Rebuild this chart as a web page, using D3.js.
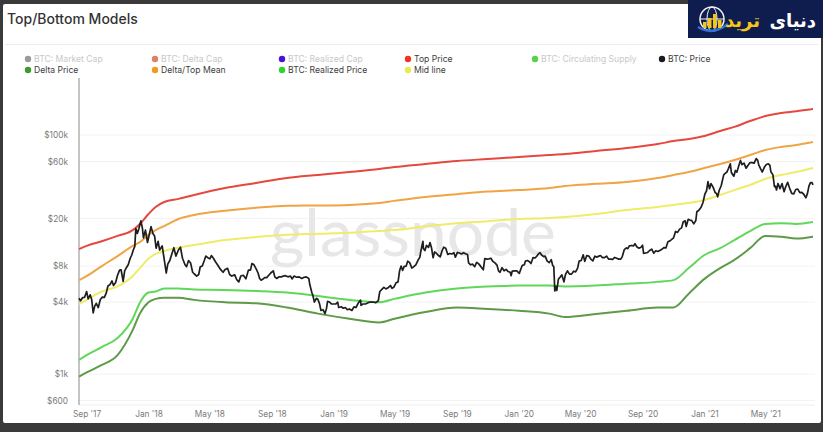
<!DOCTYPE html>
<html><head><meta charset="utf-8">
<script src="https://cdn.jsdelivr.net/npm/d3@7"></script>
<style>
html,body{margin:0;padding:0;background:#3a3a3a;}
svg{display:block;}
</style></head>
<body>
<script>
// ---------- DATA ----------
const modelDates = ["2017-08-17","2017-09-01","2017-10-01","2017-11-01","2017-12-01","2017-12-15","2018-01-01","2018-01-15","2018-02-01","2018-03-01","2018-04-01","2018-06-01","2018-08-01","2018-10-01","2018-12-01","2019-02-01","2019-04-01","2019-05-01","2019-07-01","2019-09-01","2019-11-01","2020-01-01","2020-03-01","2020-04-01","2020-06-01","2020-08-01","2020-10-01","2020-11-01","2020-12-01","2021-01-01","2021-02-01","2021-03-01","2021-04-01","2021-05-01","2021-06-01","2021-07-01","2021-08-03"];
const topPrice = [11100,11800,12900,14300,16000,18000,21800,25000,27500,29200,31500,36000,39700,43700,46300,49000,52000,54000,57200,60600,63000,65500,68000,69400,73500,77900,84000,89000,92600,98000,108000,117000,131000,144000,153000,158000,165000];
const deltaTopMean = [6100,6600,8000,9700,11800,12700,14600,16000,17300,19800,21400,23200,24600,25600,25700,26000,27000,28100,30300,32000,33600,34600,36000,37500,39000,40400,43700,46300,49000,52900,57200,61800,68000,74900,79400,82500,87400];
const midLine = [3850,4170,4900,5400,6600,7700,9200,10100,10700,11400,12000,13200,14000,14600,14900,15200,15700,16000,17200,18300,19000,19800,20200,20600,21800,23600,25000,26000,27000,28600,31500,34600,38200,42900,46300,49000,52900];
const realizedPrice = [1310,1440,1680,2000,2900,3950,4800,4900,5200,5200,5100,5050,4950,4800,4500,4170,3980,4250,4800,5200,5400,5500,5500,5400,5500,5700,5900,6100,7700,9900,11300,13200,15700,18000,18300,18000,18700];
const deltaPrice = [950,1030,1190,1440,2340,3200,3980,4250,4350,4350,4170,3980,3900,3600,3200,2900,2700,2900,3300,3600,3500,3380,3200,3000,3180,3380,3600,3600,4700,6250,7700,9000,11300,14300,14100,13600,14100];

const priceDates = ["2017-08-17","2017-08-20","2017-08-24","2017-08-28","2017-09-01","2017-09-04","2017-09-08","2017-09-11","2017-09-14","2017-09-17","2017-09-20","2017-09-24","2017-09-28","2017-10-02","2017-10-06","2017-10-10","2017-10-13","2017-10-17","2017-10-21","2017-10-24","2017-10-28","2017-11-01","2017-11-05","2017-11-08","2017-11-12","2017-11-15","2017-11-18","2017-11-22","2017-11-26","2017-11-29","2017-12-02","2017-12-05","2017-12-07","2017-12-10","2017-12-13","2017-12-17","2017-12-20","2017-12-22","2017-12-26","2017-12-30",
"2018-01-03","2018-01-06","2018-01-10","2018-01-13","2018-01-16","2018-01-20","2018-01-23","2018-01-28","2018-02-01","2018-02-05","2018-02-08","2018-02-12","2018-02-16","2018-02-20","2018-02-24","2018-03-01","2018-03-05","2018-03-09","2018-03-14","2018-03-17","2018-03-21","2018-03-25","2018-03-29","2018-04-01","2018-04-06","2018-04-10","2018-04-13","2018-04-17","2018-04-21","2018-04-24","2018-04-28","2018-05-02","2018-05-05","2018-05-09","2018-05-13","2018-05-18","2018-05-23","2018-05-28","2018-06-01","2018-06-06","2018-06-10","2018-06-14","2018-06-20","2018-06-24","2018-06-28","2018-07-02","2018-07-07","2018-07-12","2018-07-17","2018-07-21","2018-07-24","2018-07-28","2018-08-01","2018-08-05","2018-08-08","2018-08-11","2018-08-14","2018-08-18","2018-08-22","2018-08-26","2018-08-30","2018-09-04","2018-09-07","2018-09-11","2018-09-15","2018-09-20","2018-09-24","2018-09-28","2018-10-03","2018-10-08","2018-10-11","2018-10-15","2018-10-20","2018-10-25","2018-10-30","2018-11-04","2018-11-08","2018-11-13","2018-11-15","2018-11-19","2018-11-21","2018-11-24","2018-11-28","2018-12-01","2018-12-04","2018-12-07","2018-12-11","2018-12-15","2018-12-18","2018-12-20","2018-12-24","2018-12-28",
"2019-01-01","2019-01-05","2019-01-09","2019-01-11","2019-01-16","2019-01-20","2019-01-24","2019-01-28","2019-02-01","2019-02-06","2019-02-10","2019-02-14","2019-02-19","2019-02-23","2019-02-24","2019-02-28","2019-03-05","2019-03-10","2019-03-15","2019-03-20","2019-03-25","2019-03-30","2019-04-02","2019-04-06","2019-04-10","2019-04-14","2019-04-19","2019-04-23","2019-04-26","2019-04-30","2019-05-04","2019-05-08","2019-05-11","2019-05-14","2019-05-17","2019-05-20","2019-05-24","2019-05-27","2019-05-31","2019-06-04","2019-06-08","2019-06-12","2019-06-16","2019-06-20","2019-06-22","2019-06-26","2019-06-27","2019-06-30","2019-07-03","2019-07-07","2019-07-10","2019-07-13","2019-07-16","2019-07-19","2019-07-22","2019-07-26","2019-07-30","2019-08-03","2019-08-06","2019-08-10","2019-08-14","2019-08-18","2019-08-22","2019-08-26","2019-08-29","2019-09-02","2019-09-06","2019-09-10","2019-09-14","2019-09-18","2019-09-22","2019-09-24","2019-09-28","2019-10-02","2019-10-06","2019-10-10","2019-10-14","2019-10-18","2019-10-23","2019-10-26","2019-10-30","2019-11-03","2019-11-07","2019-11-11","2019-11-15","2019-11-19","2019-11-22","2019-11-25","2019-11-29","2019-12-03","2019-12-07","2019-12-11","2019-12-15","2019-12-17","2019-12-19","2019-12-24","2019-12-28",
"2020-01-02","2020-01-06","2020-01-08","2020-01-12","2020-01-14","2020-01-18","2020-01-22","2020-01-25","2020-01-29","2020-02-02","2020-02-06","2020-02-09","2020-02-12","2020-02-15","2020-02-19","2020-02-22","2020-02-26","2020-03-01","2020-03-05","2020-03-08","2020-03-10","2020-03-12","2020-03-14","2020-03-16","2020-03-19","2020-03-23","2020-03-26","2020-03-30","2020-04-02","2020-04-06","2020-04-10","2020-04-14","2020-04-18","2020-04-22","2020-04-26","2020-04-29","2020-05-03","2020-05-07","2020-05-10","2020-05-14","2020-05-18","2020-05-22","2020-05-26","2020-05-30","2020-06-02","2020-06-06","2020-06-10","2020-06-14","2020-06-18","2020-06-22","2020-06-26","2020-06-30","2020-07-04","2020-07-08","2020-07-12","2020-07-16","2020-07-20","2020-07-23","2020-07-27","2020-07-31","2020-08-03","2020-08-06","2020-08-10","2020-08-14","2020-08-17","2020-08-21","2020-08-25","2020-08-29","2020-09-01","2020-09-03","2020-09-07","2020-09-11","2020-09-15","2020-09-19","2020-09-23","2020-09-27","2020-10-01","2020-10-05","2020-10-09","2020-10-13","2020-10-17","2020-10-21","2020-10-25","2020-10-28","2020-11-01","2020-11-05","2020-11-09","2020-11-13","2020-11-17","2020-11-20","2020-11-24","2020-11-26","2020-11-30","2020-12-03","2020-12-07","2020-12-11","2020-12-15","2020-12-17","2020-12-21","2020-12-25","2020-12-29",
"2021-01-02","2021-01-05","2021-01-08","2021-01-11","2021-01-14","2021-01-18","2021-01-22","2021-01-25","2021-01-27","2021-01-30","2021-02-03","2021-02-08","2021-02-11","2021-02-14","2021-02-17","2021-02-21","2021-02-23","2021-02-26","2021-02-28","2021-03-03","2021-03-06","2021-03-10","2021-03-13","2021-03-16","2021-03-20","2021-03-24","2021-03-28","2021-04-01","2021-04-05","2021-04-09","2021-04-13","2021-04-16","2021-04-18","2021-04-22","2021-04-25","2021-04-29","2021-05-03","2021-05-07","2021-05-10","2021-05-12","2021-05-16","2021-05-19","2021-05-21","2021-05-23","2021-05-26","2021-05-30","2021-06-03","2021-06-07","2021-06-10","2021-06-14","2021-06-18","2021-06-22","2021-06-26","2021-06-30","2021-07-04","2021-07-08","2021-07-12","2021-07-16","2021-07-20","2021-07-23","2021-07-26","2021-07-29","2021-08-01","2021-08-03"];
const priceValues = [4300,4100,4350,4380,4900,4250,4600,4200,3250,3700,3900,3600,4200,4400,4370,4800,5450,5600,6000,5500,5800,6700,7400,7450,5950,7300,7700,8200,9300,9900,10900,11700,16500,15000,16400,19100,16600,13800,16000,12600,
15000,17100,14900,14300,11300,12900,10900,11800,9100,7000,8300,8900,10100,11400,9700,10900,11500,9300,8200,7900,8900,8500,7100,6900,6600,6800,7900,8000,8900,9700,9400,9200,9800,9300,8700,8100,7500,7100,7500,7650,6800,6600,6750,6150,5900,6600,6700,6250,7400,7400,8400,8200,7600,7000,6300,6100,6200,6400,6400,6700,7000,7300,6500,6300,6500,6500,6600,6650,6500,6600,6250,6600,6450,6500,6300,6450,6500,6300,5600,4800,4550,4000,4300,4200,3900,3400,3450,3200,3550,4050,4000,3850,
3850,3850,4000,3600,3650,3550,3600,3450,3500,3400,3650,3600,3950,4150,3750,3850,3850,3950,4000,4000,3950,4100,4900,5100,5300,5150,5300,5500,5200,5350,5800,5900,7300,8000,7350,7950,8000,8800,8550,7700,7900,8200,8900,9500,10700,12900,11200,10800,11900,11450,12600,11350,9400,10500,10300,9850,9550,10800,11500,11300,10000,10200,10100,10350,9500,10400,10300,10100,10350,10150,10000,8500,8200,8300,7900,8600,8350,7950,7450,9250,9150,9200,9300,8750,8500,8150,7300,7100,7750,7300,7500,7200,7100,6650,7250,7300,7300,
6950,7750,8100,8200,8800,8900,8700,8400,9400,9350,9750,10150,10350,9900,9600,9700,8800,8550,9050,8050,7900,4950,5400,5000,6200,6500,6750,5900,6800,7300,6850,6850,7250,7150,7700,8800,8900,9950,8750,9800,9700,9150,8850,9700,9500,9650,9800,9400,9400,9700,9150,9150,9100,9450,9300,9150,9150,9600,11000,11350,11200,11800,11900,11800,12300,11550,11300,11500,11950,10200,10300,10400,10800,11100,10250,10750,10600,10800,11050,11400,11350,12800,13000,13300,13750,15600,15300,16300,16700,18700,19150,17150,19700,19450,19200,18050,19250,22800,23450,24700,27100,
32200,34000,40700,35500,39200,36600,33000,32300,30400,34300,37600,46400,47900,48700,52100,57400,48800,46300,45200,50500,48900,55900,61200,56500,58200,52800,55800,58800,58700,58100,63500,61300,56200,51800,49000,53600,56600,57400,55800,49200,46400,37000,37300,34700,39300,35600,39200,33500,36700,40200,35800,32500,32100,35000,35300,32900,33100,31800,29800,32300,37300,40000,39900,38200];

const yTickValues = [600,1000,4000,8000,20000,60000,100000];
const yTickLabels = ["$600","$1k","$4k","$8k","$20k","$60k","$100k"];
const xTickDates = ["2017-09-01","2018-01-01","2018-05-01","2018-09-01","2019-01-01","2019-05-01","2019-09-01","2020-01-01","2020-05-01","2020-09-01","2021-01-01","2021-05-01"];

const legendItems = [
  {name:"BTC: Market Cap", color:"#9a9a9a", faded:true},
  {name:"BTC: Delta Cap", color:"#e0805c", faded:true},
  {name:"BTC: Realized Cap", color:"#4a12d6", faded:true},
  {name:"Top Price", color:"#f0322a", faded:false},
  {name:"BTC: Circulating Supply", color:"#52d44a", faded:true},
  {name:"BTC: Price", color:"#1a1a1a", faded:false},
  {name:"Delta Price", color:"#3f9a2c", faded:false},
  {name:"Delta/Top Mean", color:"#f29a1c", faded:false},
  {name:"BTC: Realized Price", color:"#2fd42a", faded:false},
  {name:"Mid line", color:"#e9ea52", faded:false}
];

// ---------- RENDER ----------
const W = 823, H = 432;
const FONT = "Inter, 'Open Sans', sans-serif";
const parse = d3.timeParse("%Y-%m-%d");
const svg = d3.select("body").append("svg").attr("width", W).attr("height", H);

// card
svg.append("rect").attr("x",3).attr("y",4).attr("width",818).attr("height",419).attr("rx",2).attr("fill","#ffffff");

// title
svg.append("text").attr("x",7).attr("y",24).text("Top/Bottom Models")
  .attr("font-family",FONT).attr("font-size",14).attr("font-weight",500).attr("fill","#333333");
svg.append("line").attr("x1",5).attr("x2",818).attr("y1",44.5).attr("y2",44.5).attr("stroke","#ececec");

// legend
const colX = [28,155,282,408,535,662];
legendItems.forEach((it,i)=>{
  let row, col;
  if (i < 6) { row = 0; col = i; } else { row = 1; col = i - 6; }
  const cx = colX[col], cy = 59 + row*11;
  const g = svg.append("g");
  g.append("circle").attr("cx",cx).attr("cy",cy).attr("r",3.2).attr("fill",it.color);
  g.append("text").attr("x",cx+6).attr("y",cy+3.1).text(it.name)
    .attr("font-family",FONT).attr("font-size",8.6)
    .attr("fill", it.faded ? "#c8c8c8" : "#3c3c3c");
});

// scales
const x = d3.scaleTime().domain([parse("2017-08-17"), parse("2021-08-03")]).range([79, 813]);
const y = d3.scaleLog().domain([550, 300000]).range([405, 78]);

// gridlines
svg.append("g").selectAll("line").data(yTickValues).join("line")
  .attr("x1",79).attr("x2",815).attr("y1",d=>y(d)).attr("y2",d=>y(d))
  .attr("stroke","#f3f3f3").attr("stroke-width",1);
svg.append("line").attr("x1",79).attr("x2",815).attr("y1",405).attr("y2",405).attr("stroke","#efefef");

// watermark
svg.append("text").attr("x",413).attr("y",256).attr("text-anchor","middle").text("glassnode")
  .attr("font-family","Lato, 'Open Sans', sans-serif").attr("font-size",66).attr("font-weight",400)
  .attr("fill","#e7e7e7");

// y axis
const yAxis = d3.axisLeft(y).tickValues(yTickValues).tickFormat((d,i)=>yTickLabels[i]).tickSize(0).tickPadding(11);
const ga = svg.append("g").attr("transform","translate(79,0)").call(yAxis);
ga.select(".domain").attr("stroke","#8a8a8a").attr("d","M0,78V405");
ga.selectAll("text").attr("font-family",FONT).attr("font-size",8.3).attr("fill","#7a7a7a");

// x axis
const xAxis = d3.axisBottom(x).tickValues(xTickDates.map(parse)).tickFormat(d3.timeFormat("%b '%y")).tickSize(0).tickPadding(6);
const gx = svg.append("g").attr("transform","translate(0,405)").call(xAxis);
gx.select(".domain").remove();
gx.selectAll("text").attr("font-family",FONT).attr("font-size",8.3).attr("fill","#7a7a7a");

// model lines
const mDates = modelDates.map(parse);
const smooth = d3.line().x(d=>x(d[0])).y(d=>y(d[1])).curve(d3.curveMonotoneX);
const series = [
  {vals: deltaPrice, color:"#5e9a48"},
  {vals: realizedPrice, color:"#5fd85a"},
  {vals: midLine, color:"#efec6a"},
  {vals: deltaTopMean, color:"#f0a445"},
  {vals: topPrice, color:"#e5483e"}
];
series.forEach(s=>{
  svg.append("path").datum(mDates.map((d,i)=>[d, s.vals[i]]))
    .attr("d", smooth).attr("fill","none").attr("stroke", s.color).attr("stroke-width",2).attr("stroke-linejoin","round");
});

// price
const pData = priceDates.map((d,i)=>[parse(d), priceValues[i]]);
svg.append("path").datum(pData)
  .attr("d", d3.line().x(d=>x(d[0])).y(d=>y(d[1])))
  .attr("fill","none").attr("stroke","#1e1e1e").attr("stroke-width",1.7).attr("stroke-linejoin","round");

// logo
const lg = svg.append("g");
lg.append("rect").attr("x",688).attr("y",0).attr("width",135).attr("height",38).attr("fill","#0f1d4e");
lg.append("circle").attr("cx",712).attr("cy",19).attr("r",12).attr("fill","none").attr("stroke","#f2f2f2").attr("stroke-width",1.5);
lg.append("ellipse").attr("cx",712).attr("cy",19).attr("rx",5).attr("ry",12).attr("fill","none").attr("stroke","#f2f2f2").attr("stroke-width",1);
lg.append("line").attr("x1",700).attr("x2",724).attr("y1",19).attr("y2",19).attr("stroke","#f2f2f2").attr("stroke-width",1);
lg.append("path").attr("d","M698,27 Q712,36 728,24").attr("fill","none").attr("stroke","#2f6fd8").attr("stroke-width",2.5);
[[703,22,6],[708,18,10],[713,14,14],[718,20,8]].forEach(b=>{
  lg.append("rect").attr("x",b[0]).attr("y",b[1]).attr("width",3.5).attr("height",b[2]).attr("fill","#f5c518");
});
lg.append("text").attr("x",816).attr("y",27).attr("text-anchor","end").text("دنیای")
  .attr("font-family","'DejaVu Sans', sans-serif").attr("font-size",18).attr("font-weight",700).attr("fill","#ffffff");
lg.append("text").attr("x",760).attr("y",27).attr("text-anchor","end").text("ترید")
  .attr("font-family","'DejaVu Sans', sans-serif").attr("font-size",18).attr("font-weight",700).attr("fill","#f5c518");
</script>
</body></html>
